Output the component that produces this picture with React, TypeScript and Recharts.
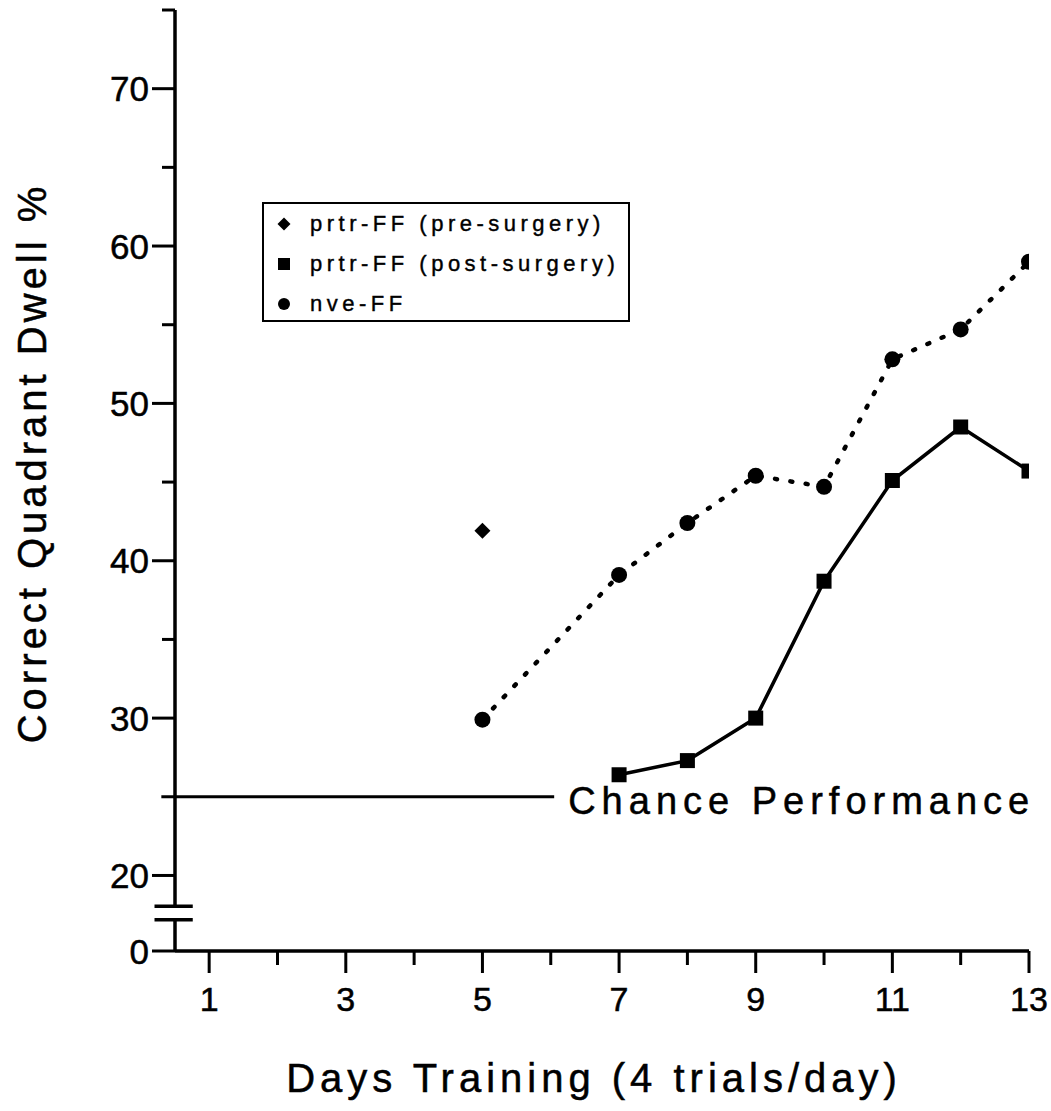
import { Line, LineChart, ReferenceLine, XAxis, YAxis } from "recharts"

const FONT = "'Liberation Sans', Arial, Helvetica, sans-serif"

// days on x, dwell % on y
const preDays = [5]
const preValues = [41.9]
const postDays = [7, 8, 9, 10, 11, 12, 13]
const postValues = [26.4, 27.3, 30.0, 38.7, 45.1, 48.5, 45.7]
const nveDays = [5, 7, 8, 9, 10, 11, 12, 13]
const nveValues = [29.9, 39.1, 42.4, 45.4, 44.7, 52.8, 54.7, 59.0]

const chanceLevel = 25
const xTicks = [1, 2, 3, 4, 5, 6, 7, 8, 9, 10, 11, 12, 13]
const yTicks = [15.2, 20, 30, 35, 40, 45, 50, 55, 60, 65, 70, 75]
const yTickLabels: Record<string, string> = {
  "15.2": "0",
  "20": "20",
  "30": "30",
  "40": "40",
  "50": "50",
  "60": "60",
  "70": "70",
}

const preData = preDays.map((d, i) => ({ day: d, value: preValues[i] }))
const postData = postDays.map((d, i) => ({ day: d, value: postValues[i] }))
const nveData = nveDays.map((d, i) => ({ day: d, value: nveValues[i] }))

const Diamond = ({ cx, cy, s = 8 }: any) => (
  <path d={`M${cx},${cy - s} L${cx + s},${cy} L${cx},${cy + s} L${cx - s},${cy} Z`} fill="#000" />
)
const Square = ({ cx, cy, s = 7.5 }: any) => <rect x={cx - s} y={cy - s} width={s * 2} height={s * 2} fill="#000" />
const Dot = ({ cx, cy, r = 8 }: any) => <circle cx={cx} cy={cy} r={r} fill="#000" />

// slight outline so the text reads as heavy as the scanned original
const textInk = { fill: "#000", stroke: "#000", strokeWidth: 0.5, fontFamily: FONT }

const XTick = (props: any) => {
  const { x, y, payload } = props
  const major = payload.value % 2 === 1
  return (
    <g>
      <line x1={x} x2={x} y1={y} y2={y + (major ? 22 : 14)} stroke="#000" strokeWidth={3} />
      {major && (
        <text x={x} y={y + 60} textAnchor="middle" fontSize={34} {...textInk}>
          {payload.value}
        </text>
      )}
    </g>
  )
}

const YTick = (props: any) => {
  const { x, y, payload } = props
  const label = yTickLabels[String(payload.value)]
  const len = label ? 23 : 13
  return (
    <g>
      <line x1={x - len} x2={x} y1={y} y2={y} stroke="#000" strokeWidth={3} />
      {label && (
        <text x={x - len - 3} y={y} dy="0.36em" textAnchor="end" fontSize={35} {...textInk}>
          {label}
        </text>
      )}
    </g>
  )
}

const ChanceLabel = (props: any) => {
  const vb = props.viewBox || {}
  return (
    <text x={vb.x + vb.width + 14} y={vb.y + 17} fontSize={38} {...textInk} style={{ letterSpacing: 6 }}>
      Chance Performance
    </text>
  )
}

const YTitle = (props: any) => {
  const vb = props.viewBox || {}
  const cx = vb.x + 46
  const cy = 463
  return (
    <text
      x={cx}
      y={cy}
      transform={`rotate(-90, ${cx}, ${cy})`}
      textAnchor="middle"
      fontSize={40}
      {...textInk}
      style={{ letterSpacing: 4 }}
    >
      Correct Quadrant Dwell %
    </text>
  )
}

const XTitle = (props: any) => {
  const vb = props.viewBox || {}
  return (
    <text x={594} y={vb.y + 141} textAnchor="middle" fontSize={40} {...textInk} style={{ letterSpacing: 5 }}>
      Days Training (4 trials/day)
    </text>
  )
}

const legendItems = [
  { name: "prtr-FF (pre-surgery)", shape: "diamond" },
  { name: "prtr-FF (post-surgery)", shape: "square" },
  { name: "nve-FF", shape: "circle" },
]

function LegendBox() {
  return (
    <div
      style={{
        position: "absolute",
        left: 262,
        top: 202,
        width: 364,
        height: 116,
        border: "2px solid #000",
        background: "#fff",
        fontFamily: FONT,
      }}
    >
      {legendItems.map((item, i) => (
        <div
          key={item.name}
          style={{ position: "absolute", left: 0, top: 20 + i * 40 - 14, height: 28, display: "flex", alignItems: "center" }}
        >
          <svg width={36} height={28} style={{ marginLeft: 2 }}>
            {item.shape === "diamond" && <Diamond cx={18} cy={14} s={6.5} />}
            {item.shape === "square" && <Square cx={18} cy={14} s={6} />}
            {item.shape === "circle" && <Dot cx={18} cy={14} r={6} />}
          </svg>
          <span
            style={{
              marginLeft: 8,
              fontSize: 22,
              letterSpacing: 4.5,
              whiteSpace: "nowrap",
              WebkitTextStroke: "0.4px #000",
            }}
          >
            {item.name}
          </span>
        </div>
      ))}
    </div>
  )
}

export default function App() {
  return (
    <div style={{ position: "absolute", left: 0, top: 0, width: 1051, height: 1111, background: "#fff", fontFamily: FONT }}>
      <LineChart width={1051} height={1111} margin={{ top: 10, right: 22, bottom: 0, left: 0 }}>
        <XAxis
          dataKey="day"
          type="number"
          domain={[0.5, 13]}
          ticks={xTicks}
          interval={0}
          allowDataOverflow
          height={160}
          tickSize={0}
          tickMargin={0}
          tickLine={false}
          axisLine={{ stroke: "#000", strokeWidth: 3.5 }}
          tick={<XTick />}
          label={<XTitle />}
        />
        <YAxis
          type="number"
          domain={[15.2, 75]}
          ticks={yTicks}
          interval={0}
          allowDataOverflow
          width={175}
          tickSize={0}
          tickMargin={0}
          tickLine={false}
          axisLine={false}
          tick={<YTick />}
          label={<YTitle />}
        />
        {/* broken y axis drawn as two segments */}
        <ReferenceLine
          segment={[{ x: 0.5, y: 15.2 }, { x: 0.5, y: 17.18 }]}
          stroke="#000"
          strokeWidth={3.5}
          ifOverflow="visible"
        />
        <ReferenceLine
          segment={[{ x: 0.5, y: 18.05 }, { x: 0.5, y: 75 }]}
          stroke="#000"
          strokeWidth={3.5}
          ifOverflow="visible"
        />
        <ReferenceLine
          segment={[{ x: 0.2, y: 18.05 }, { x: 0.76, y: 18.05 }]}
          stroke="#000"
          strokeWidth={3.5}
          ifOverflow="visible"
        />
        <ReferenceLine
          segment={[{ x: 0.2, y: 17.18 }, { x: 0.76, y: 17.18 }]}
          stroke="#000"
          strokeWidth={3.5}
          ifOverflow="visible"
        />
        <ReferenceLine
          segment={[{ x: 0.3, y: chanceLevel }, { x: 6.05, y: chanceLevel }]}
          stroke="#000"
          strokeWidth={3}
          ifOverflow="visible"
          label={<ChanceLabel />}
        />
        <Line
          data={nveData}
          dataKey="value"
          stroke="#000"
          strokeWidth={4.5}
          strokeDasharray="2 13.5"
          strokeLinecap="round"
          dot={(p: any) => <Dot key={`n${p.index}`} cx={p.cx} cy={p.cy} r={8} />}
          activeDot={false}
          isAnimationActive={false}
        />
        <Line
          data={postData}
          dataKey="value"
          stroke="#000"
          strokeWidth={3.5}
          dot={(p: any) => <Square key={`s${p.index}`} cx={p.cx} cy={p.cy} s={7.5} />}
          activeDot={false}
          isAnimationActive={false}
        />
        <Line
          data={preData}
          dataKey="value"
          stroke="none"
          dot={(p: any) => <Diamond key={`d${p.index}`} cx={p.cx} cy={p.cy} s={8} />}
          activeDot={false}
          isAnimationActive={false}
        />
      </LineChart>
      <LegendBox />
    </div>
  )
}
